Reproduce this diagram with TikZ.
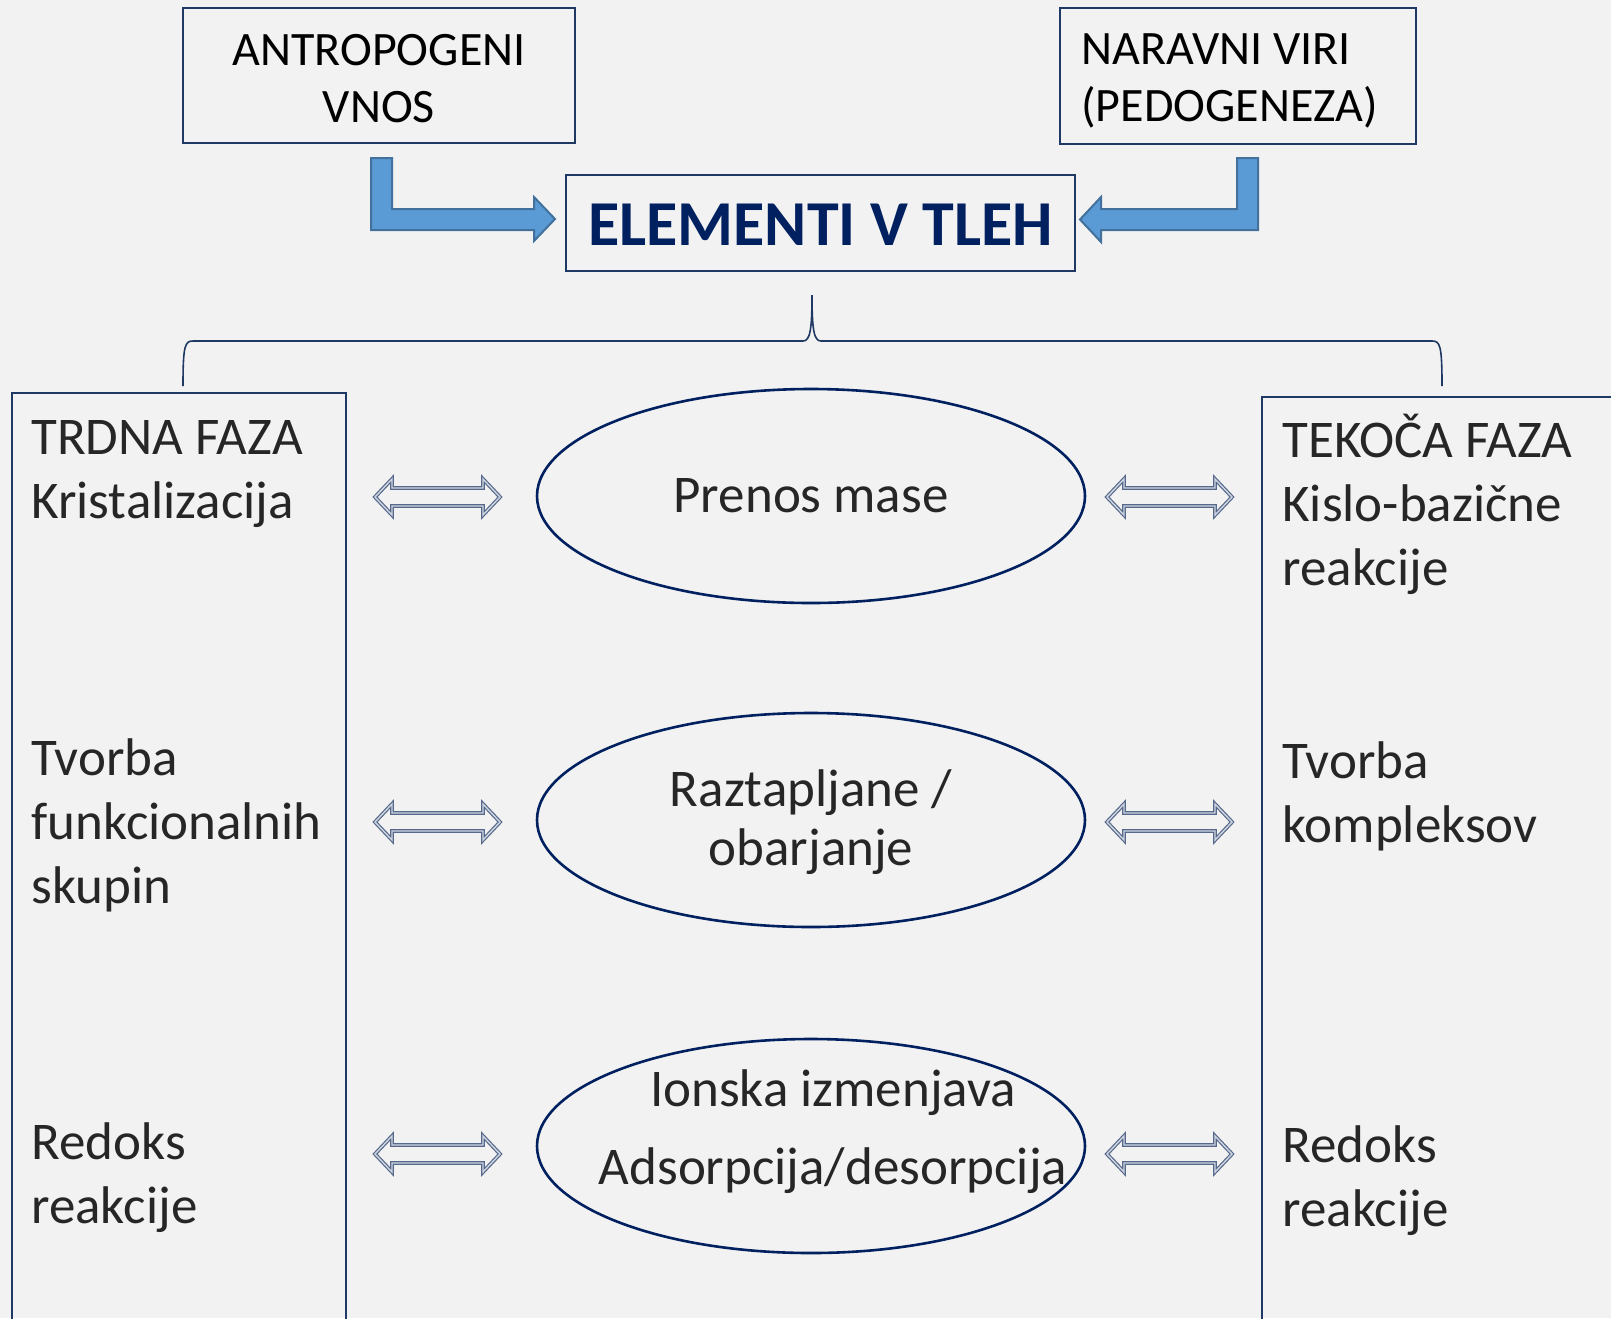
\documentclass[tikz,border=0pt]{standalone}
\usepackage{fontspec}
\setmainfont{Carlito}
\usetikzlibrary{shapes.geometric,calc}

\definecolor{paper}{HTML}{F2F2F2}
\definecolor{framec}{HTML}{1F3864}
\definecolor{navy}{HTML}{002060}
\definecolor{ink}{HTML}{262626}
\definecolor{bentfill}{HTML}{5B9BD5}
\definecolor{bentline}{HTML}{41719C}
\definecolor{dblline}{HTML}{56698C}
\definecolor{dblin}{HTML}{D0D6E0}

\tikzstyle{every picture}+=[x=0.5pt, y=-0.5pt, >=latex]
\tikzstyle{frame}=[draw=framec, line width=1pt, inner sep=0pt]
\tikzstyle{phase}=[ellipse, draw=navy, line width=1.3pt, inner sep=0pt,
	minimum width=274pt, minimum height=107pt]
\tikzstyle{body}=[text=ink, font=\fontsize{26.5}{32}\selectfont, align=left, inner sep=0pt]
\tikzstyle{head}=[text=black, font=\fontsize{24}{28.5}\selectfont, inner sep=0pt]
\tikzstyle{bent}=[fill=bentfill, draw=bentline, line width=1pt]
\tikzstyle{dbl}=[draw=dblline, double=dblin, double distance=0.7pt, line width=0.6pt]
\tikzstyle{brace}=[draw=framec, line width=0.8pt]

\begin{document}
\begin{tikzpicture}
	\newcommand\twoway[1]{
		\draw[dbl] (#1) -- ++(17,-18) -- ++(0,9) -- ++(91,0) -- ++(0,-9)
			-- ++(17,18) -- ++(-17,18) -- ++(0,-9) -- ++(-91,0) -- ++(0,9) -- cycle ;
	}
	\fill[paper] (0,0) rectangle (1611,1318) ;
	\useasboundingbox (0,0) rectangle (1611,1318) ;

	\node[frame, minimum width=196pt, minimum height=67.5pt] (antro) at (379,75.5) {} ;
	\node[head, align=center] (antrot) at ($(antro)+(0,3)$) {ANTROPOGENI\\VNOS} ;
	\node[frame, minimum width=178pt, minimum height=68pt] (naravni) at (1238,76) {} ;
	\node[head, align=flush left, anchor=west] (naravnit) at ($(naravni.west)+(22,5)$) {NARAVNI VIRI\\(PEDOGENEZA)} ;
	\node[frame, minimum width=254.5pt, minimum height=48pt] (elem) at (820.5,223) {} ;
	\node[text=navy, font=\bfseries\fontsize{32}{38}\selectfont, inner sep=0pt] (elemt) at ($(elem)+(0,2)$) {ELEMENTI V TLEH} ;

	\coordinate (ltip) at ($(elem.west)+(-10,-4)$) ;
	\coordinate (rtip) at ($(elem.east)+(4,-3.5)$) ;
	\draw[bent] (ltip) -- ++(-21,-22) -- ++(0,12) -- ++(-142,0) -- ++(0,-51) -- ++(-21,0)
		-- ++(0,72) -- ++(163,0) -- ++(0,11) -- cycle ;
	\draw[bent] (rtip) -- ++(21,-22.5) -- ++(0,12) -- ++(136,0) -- ++(0,-51) -- ++(21,0)
		-- ++(0,72) -- ++(-157,0) -- ++(0,12) -- cycle ;

	\node[frame, minimum width=167pt, minimum height=468.5pt] (trdna) at (179,861.5) {} ;
	\node[frame, minimum width=181.5pt, minimum height=466.5pt] (tekoca) at (1443.5,863.5) {} ;

	\coordinate (bl) at (183,386) ;
	\coordinate (btip) at (812,295) ;
	\coordinate (br) at (1442,386) ;
	\draw[brace] (bl) .. controls (183,345) and (185,341) .. (193,341) -- (803,341)
		.. controls (810,341) and (812,330) .. (btip)
		.. controls (812,330) and (814,341) .. (821,341) -- (1432,341)
		.. controls (1440,341) and (1442,345) .. (br) ;

	\node[body, anchor=west] (solid) at (31,474) {TRDNA FAZA\\Kristalizacija} ;
	\node[body, anchor=west] (groups) at (31,825) {Tvorba\\funkcionalnih\\skupin} ;
	\node[body, anchor=west] (redoxl) at (31,1177.5) {Redoks\\reakcije} ;
	\node[body, anchor=west] (liquid) at (1282,504) {TEKOČA FAZA\\Kislo-bazične\\reakcije} ;
	\node[body, anchor=west] (complex) at (1282,796) {Tvorba\\kompleksov} ;
	\node[body, anchor=west] (redoxr) at (1282,1180.5) {Redoks\\reakcije} ;

	\node[phase] (prenos) at (811,496) {} ;
	\node[phase] (raztap) at (811,820) {} ;
	\node[phase] (ionska) at (811,1146) {} ;
	\node[body, align=center] (prenost) at ($(prenos)+(0,0)$) {Prenos mase} ;
	\node[body, align=center, font=\fontsize{26.5}{29.5}\selectfont] (raztapt) at ($(raztap)+(0,2)$) {Raztapljane /\\obarjanje} ;
	\node[body, align=center, font=\fontsize{26.5}{39}\selectfont] (ionskat) at ($(ionska)+(22,-14)$) {Ionska izmenjava\\Adsorpcija/desorpcija} ;

	\foreach \e/\d in {prenos/1, raztap/2, ionska/8} {
		\twoway{$(trdna.east |- \e)+(28,\d)$}
		\twoway{$(tekoca.west |- \e)+(-154,\d)$}
	}
\end{tikzpicture}
\end{document}
